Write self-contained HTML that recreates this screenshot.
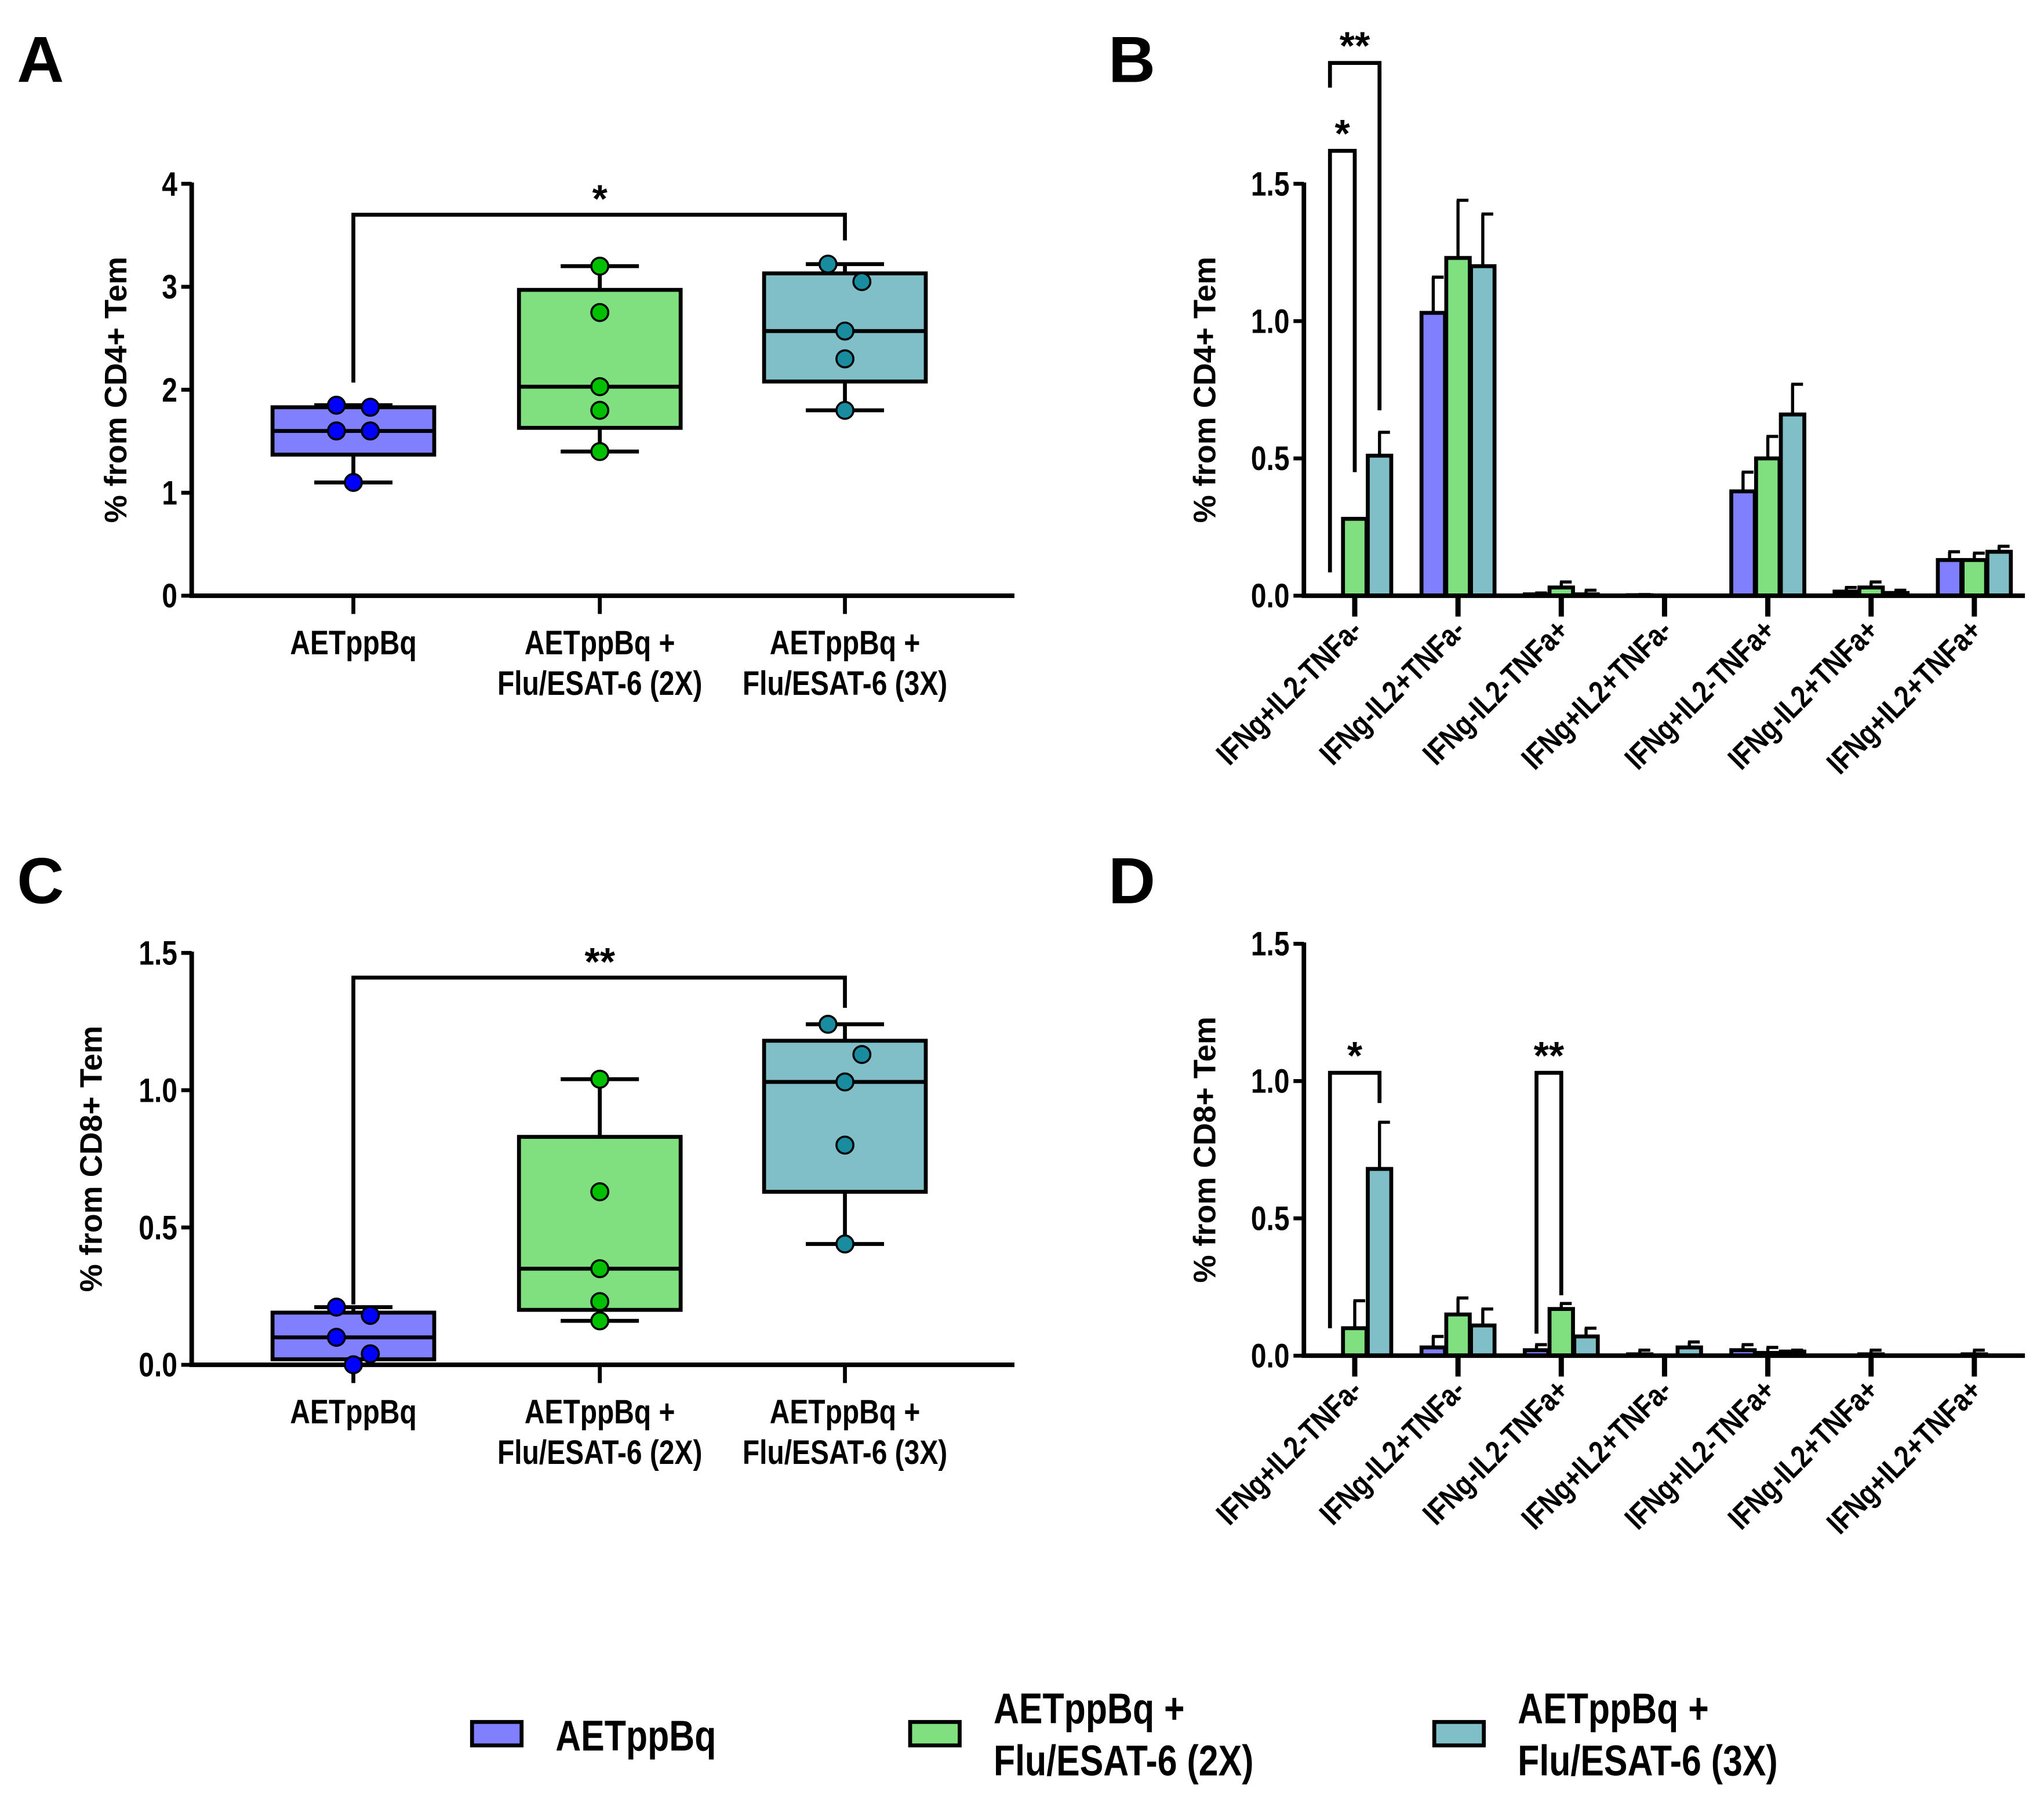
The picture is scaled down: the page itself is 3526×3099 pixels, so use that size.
<!DOCTYPE html>
<html><head><meta charset="utf-8"><style>
html,body{margin:0;padding:0;background:#fff;}
svg{display:block;}
text{font-family:"Liberation Sans",sans-serif;font-weight:bold;fill:#000;}
</style></head><body>
<svg id="fig" width="3526" height="3099" viewBox="0 0 1567.6 1377.8" xmlns="http://www.w3.org/2000/svg"></svg>
<script>
// ---- Panel A/C box data ----
const boxCats = ["AETppBq", "AETppBq +|Flu/ESAT-6 (2X)", "AETppBq +|Flu/ESAT-6 (3X)"];
const aWhiskLo = [1.1, 1.4, 1.8];
const aQ1 = [1.37, 1.63, 2.08];
const aMed = [1.6, 2.03, 2.57];
const aQ3 = [1.83, 2.97, 3.13];
const aWhiskHi = [1.85, 3.2, 3.22];
const aPoints = [[1.85,1.83,1.6,1.6,1.1],[3.2,2.75,2.03,1.8,1.4],[3.22,3.05,2.57,2.3,1.8]];
const aTicks = [0,1,2,3,4];
const cWhiskLo = [0.0, 0.16, 0.44];
const cQ1 = [0.02, 0.2, 0.63];
const cMed = [0.1, 0.35, 1.03];
const cQ3 = [0.19, 0.83, 1.18];
const cWhiskHi = [0.21, 1.04, 1.24];
const cPoints = [[0.21,0.18,0.1,0.04,0.0],[1.04,0.63,0.35,0.23,0.16],[1.24,1.13,1.03,0.8,0.44]];
const cTicks = [0,0.5,1.0,1.5];
// ---- Panel B/D bar data ----
const barCats = ["IFNg+IL2-TNFa-","IFNg-IL2+TNFa-","IFNg-IL2-TNFa+","IFNg+IL2+TNFa-","IFNg+IL2-TNFa+","IFNg-IL2+TNFa+","IFNg+IL2+TNFa+"];
const bBlue = [0, 1.03, 0.005, 0.002, 0.38, 0.015, 0.13];
const bGreen = [0.28, 1.23, 0.03, 0, 0.50, 0.03, 0.13];
const bTeal = [0.51, 1.20, 0.005, 0, 0.66, 0.01, 0.16];
const bBlueErr = [0, 1.16, 0.01, 0.004, 0.45, 0.03, 0.16];
const bGreenErr = [0, 1.44, 0.05, 0, 0.58, 0.05, 0.155];
const bTealErr = [0.595, 1.39, 0.02, 0, 0.77, 0.02, 0.18];
const dBlue = [0, 0.03, 0.02, 0.005, 0.02, 0, 0];
const dGreen = [0.10, 0.15, 0.17, 0, 0.01, 0.005, 0.005];
const dTeal = [0.68, 0.11, 0.07, 0.03, 0.015, 0, 0];
const dBlueErr = [0, 0.07, 0.04, 0.02, 0.04, 0, 0];
const dGreenErr = [0.2, 0.21, 0.19, 0, 0.03, 0.02, 0.02];
const dTealErr = [0.85, 0.17, 0.1, 0.05, 0.02, 0, 0];
const bdTicks = [0, 0.5, 1.0, 1.5];
const bdTickLabels = ["0.0","0.5","1.0","1.5"];

const NS = "http://www.w3.org/2000/svg";
const svg = document.getElementById("fig");
function el(tag, attrs, parent){
  const e = document.createElementNS(NS, tag);
  for (const k in attrs) e.setAttribute(k, attrs[k]);
  (parent||svg).appendChild(e);
  return e;
}
function ctext(parent, x, y, size, anchor, str, rot){
  const tr = `translate(${x},${y})` + (rot ? ` rotate(${rot})` : "") + " scale(0.82,1)";
  const t = el("text", {x:0, y:0, "font-size":size, "text-anchor":anchor, transform:tr}, parent);
  t.textContent = str;
  return t;
}
const fills = ["#8080ff","#80e080","#80bfc8"];
const dotFills = ["#0000ff","#00c000","#1a8ca0"];

function letter(t, x, y){
  const e = el("text", {x:x, y:y, "font-size":50});
  
  
  e.textContent = t;
}
letter("A", 13, 63); letter("B", 850, 63); letter("C", 13, 693); letter("D", 850, 693);

function boxPanel(id, y0px, ytopPx, ymax, ticks, tickLabels, wlo, q1, med, q3, whi, pts, title, titleX, brk){
  const g = el("g", {});
  
  
  const ax = 147, xEnd = 778;
  const Y = v => y0px - (v / ymax) * (y0px - ytopPx);
  const xs = [271, 460, 648];
  const yAxis = el("line", {x1:ax, y1:ytopPx-1, x2:ax, y2:y0px, stroke:"#000","stroke-width":3.5}, g);
  
  
  const xAxis = el("line", {x1:ax-1.7, y1:y0px, x2:xEnd, y2:y0px, stroke:"#000","stroke-width":3.5}, g);
  
  
  ticks.forEach((t,i)=>{
    el("line",{x1:ax-8,y1:Y(t),x2:ax,y2:Y(t),stroke:"#000","stroke-width":3},g);
    const tl = ctext(g, ax-11, Y(t)+9, 26, "end", tickLabels[i]);
    
    
  });
  const tt = el("text",{x:0,y:0,"font-size":24,"text-anchor":"middle",transform:`translate(${titleX},${(Y(ymax)+y0px)/2}) rotate(-90)`},g);
  
  
  tt.textContent = title;
  xs.forEach((x,i)=>{
    el("line",{x1:x,y1:y0px,x2:x,y2:y0px+14,stroke:"#000","stroke-width":3},g);
    const lines = boxCats[i].split("|");
    lines.forEach((ln,j)=>{
      const t = ctext(g, x, y0px+45+j*31, 26, "middle", ln);
      
      
    });
    const bw = 124;
    el("line",{x1:x,y1:Y(whi[i]),x2:x,y2:Y(wlo[i]),stroke:"#000","stroke-width":3},g);
    el("line",{x1:x-30,y1:Y(whi[i]),x2:x+30,y2:Y(whi[i]),stroke:"#000","stroke-width":3},g);
    el("line",{x1:x-30,y1:Y(wlo[i]),x2:x+30,y2:Y(wlo[i]),stroke:"#000","stroke-width":3},g);
    const b = el("rect",{x:x-bw/2,y:Y(q3[i]),width:bw,height:Y(q1[i])-Y(q3[i]),fill:fills[i],stroke:"#000","stroke-width":3},g);
    
    
    el("line",{x1:x-bw/2,y1:Y(med[i]),x2:x+bw/2,y2:Y(med[i]),stroke:"#000","stroke-width":3},g);
    const offs = [-13,13,-13,13,0];
    pts[i].forEach((v,k)=>{
      const dx = (i===0 || (i===2 && k<2)) ? offs[k] : 0;
      const c = el("circle",{cx:x+dx,cy:Y(v),r:6.5,fill:dotFills[i],stroke:"#000","stroke-width":1.6},g);
      
      
    });
  });
  const by = Y(brk.top);
  const br = el("path",{d:`M${xs[0]},${Y(brk.left)} V${by} H${xs[2]} V${Y(brk.right)}`,fill:"none",stroke:"#000","stroke-width":3},g);
  
  
  const st = el("text",{x:xs[1],y:by-2,"font-size":30,"text-anchor":"middle"},g);
  
  
  st.textContent = brk.stars;
}
boxPanel("a", 457, 141, 4, aTicks, ["0","1","2","3","4"], aWhiskLo, aQ1, aMed, aQ3, aWhiskHi, aPoints, "% from CD4+ Tem", 97, {top:3.7,left:2.07,right:3.45,stars:"*"});
boxPanel("c", 1047, 731, 1.5, cTicks, ["0.0","0.5","1.0","1.5"], cWhiskLo, cQ1, cMed, cQ3, cWhiskHi, cPoints, "% from CD8+ Tem", 78, {top:1.41,left:0.22,right:1.3,stars:"**"});

function barPanel(id, y0px, ytopPx, blue, green, teal, be, ge, te, title, brks){
  const g = el("g", {});
  
  
  const ax = 1000, xEnd = 1553, ymax = 1.5;
  const Y = v => y0px - (v / ymax) * (y0px - ytopPx);
  const X = i => 1039 + i * 79.2;
  const yAxis = el("line",{x1:ax,y1:ytopPx-1,x2:ax,y2:y0px,stroke:"#000","stroke-width":3.5},g);
  
  
  bdTicks.forEach((t,i)=>{
    el("line",{x1:ax-8,y1:Y(t),x2:ax,y2:Y(t),stroke:"#000","stroke-width":3},g);
    const tl = ctext(g, ax-11, Y(t)+9, 26, "end", bdTickLabels[i]);
    
    
  });
  const tt = el("text",{x:0,y:0,"font-size":24,"text-anchor":"middle",transform:`translate(${932},${(ytopPx+y0px)/2}) rotate(-90)`},g);
  
  
  tt.textContent = title;
  const series = [blue, green, teal], errs = [be, ge, te];
  barCats.forEach((c,i)=>{
    series.forEach((s,k)=>{
      const cx = X(i) + (k-1)*19;
      if (errs[k][i] > s[i]) {
        el("line",{x1:cx,y1:Y(s[i]),x2:cx,y2:Y(errs[k][i]),stroke:"#000","stroke-width":2.4},g);
        el("line",{x1:cx-1,y1:Y(errs[k][i]),x2:cx+8,y2:Y(errs[k][i]),stroke:"#000","stroke-width":2.4},g);
      }
      if (s[i] > 0) {
        const r = el("rect",{x:cx-9,y:Y(s[i]),width:18,height:y0px-Y(s[i]),fill:fills[k],stroke:"#000","stroke-width":3},g);
        
        
      }
    });
    el("line",{x1:X(i),y1:y0px,x2:X(i),y2:y0px+16,stroke:"#000","stroke-width":4},g);
    const t = ctext(g, X(i)+7, y0px+28, 24, "end", c, -45);
    
    
  });
  const xAxis = el("line",{x1:ax-1.7,y1:y0px,x2:xEnd,y2:y0px,stroke:"#000","stroke-width":3.5},g);
  
  
  brks.forEach(b=>{
    const xl = X(b.g) + (b.l-1)*19, xr = X(b.g2) + (b.r-1)*19;
    const p = el("path",{d:`M${xl},${Y(b.lv)} V${Y(b.top)} H${xr} V${Y(b.rv)}`,fill:"none",stroke:"#000","stroke-width":3},g);
    
    
    const s = el("text",{x:(xl+xr)/2,y:Y(b.top)-3,"font-size":30,"text-anchor":"middle"},g);
    
    
    s.textContent = b.stars;
  });
}
barPanel("b", 457, 141, bBlue, bGreen, bTeal, bBlueErr, bGreenErr, bTealErr, "% from CD4+ Tem",
  [{g:0,l:0,g2:0,r:1,top:1.62,lv:0.085,rv:0.45,stars:"*"},{g:0,l:0,g2:0,r:2,top:1.94,lv:1.85,rv:0.675,stars:"**"}]);
barPanel("d", 1040, 724, dBlue, dGreen, dTeal, dBlueErr, dGreenErr, dTealErr, "% from CD8+ Tem",
  [{g:0,l:0,g2:0,r:2,top:1.03,lv:0.1,rv:0.92,stars:"*"},{g:2,l:0,g2:2,r:1,top:1.03,lv:0.08,rv:0.22,stars:"**"}]);

// legend
const legNames = [["AETppBq"],["AETppBq +","Flu/ESAT-6 (2X)"],["AETppBq +","Flu/ESAT-6 (3X)"]];
const legX = [362, 698, 1100];
legNames.forEach((n,i)=>{
  const g = el("g",{});
  
  
  el("rect",{x:legX[i],y:1321,width:38,height:18,fill:fills[i],stroke:"#000","stroke-width":3},g);
  n.forEach((ln,j)=>{
    ctext(g, legX[i]+64, (n.length===1?1343:1322+j*40), 33, "start", ln);
  });
});
</script>
</body></html>
